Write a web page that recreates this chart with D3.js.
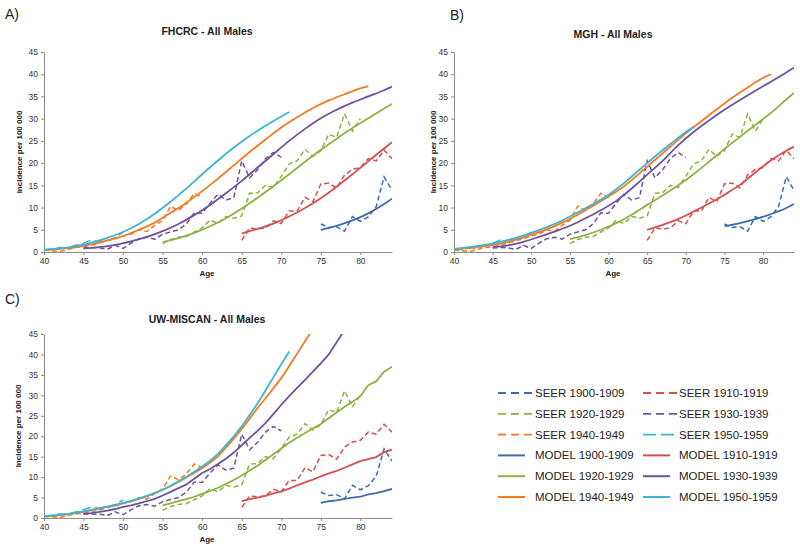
<!DOCTYPE html>
<html>
<head>
<meta charset="utf-8">
<script src="https://cdn.jsdelivr.net/npm/d3@7/dist/d3.min.js"></script>
<style>
  body { margin: 0; background: #fff; }
  svg { font-family: "Liberation Sans", Arial, sans-serif; }
</style>
</head>
<body>
<div id="chart"></div>
<script>
// cohorts and colours
const cohorts = ["1900-1909", "1910-1919", "1920-1929", "1930-1939", "1940-1949", "1950-1959"];
const colors = ["#3d6cae", "#d2504f", "#8fb144", "#6f529e", "#f47a20", "#3db4d4"];

// SEER observed incidence (same in every panel), first age of each cohort
const seerStart = [75, 65, 55, 45, 40, 40];
const seer1900 = [6.3, 5.5, 5.7, 4.7, 8.0, 6.9, 7.9, 10.2, 16.9, 13.9];
const seer1910 = [2.6, 5.4, 5.2, 5.4, 7.0, 6.4, 9.2, 9.2, 12.3, 11.3, 15.3, 15.5, 14.4, 17.3, 18.6, 19.0, 21.0, 20.5, 22.9, 21.0];
const seer1920 = [1.9, 2.8, 3.3, 3.5, 4.5, 5.4, 7.2, 6.4, 8.0, 7.6, 8.1, 13.2, 13.3, 15.0, 14.5, 17.0, 19.8, 20.5, 23.1, 21.5, 22.8, 26.5, 25.8, 31.1, 27.2, 30.0];
const seer1930 = [0.9, 1.0, 0.9, 0.6, 1.5, 0.8, 2.0, 3.0, 3.3, 2.9, 4.0, 4.5, 5.0, 6.3, 8.8, 8.7, 11.0, 13.0, 11.7, 12.2, 20.5, 16.7, 18.5, 21.0, 22.4, 21.3];
const seer1940 = [0.4, 0.3, 0.1, 0.6, 1.0, 1.2, 1.5, 2.0, 2.6, 3.0, 3.6, 4.0, 5.0, 4.6, 6.0, 7.1, 10.3, 9.3, 10.8, 13.2, 12.3];
const seer1950 = [0.5, 0.7, 1.0, 0.9, 1.5, 2.0, 2.7, 2.3, 2.5, 3.3, 4.4];
const seerValues = [seer1900, seer1910, seer1920, seer1930, seer1940, seer1950];

// FHCRC model, [age, incidence]
const fhcrc1900 = [[75, 5.0], [77, 5.9], [79, 7.1], [81, 8.7], [83, 10.8], [84, 12.0]];
const fhcrc1910 = [[65, 4.2], [67, 5.2], [69, 6.4], [71, 8.0], [73, 9.9], [75, 12.1], [77, 14.7], [79, 17.5], [81, 20.4], [83, 23.3], [84, 24.7]];
const fhcrc1920 = [[55, 2.2], [57, 3.1], [59, 4.3], [61, 5.8], [63, 7.6], [65, 9.8], [67, 12.2], [69, 14.8], [71, 17.5], [73, 20.3], [75, 23.0], [77, 25.5], [79, 27.9], [81, 30.1], [83, 32.3], [84, 33.3]];
const fhcrc1930 = [[45, 0.8], [47, 1.1], [49, 1.6], [51, 2.4], [53, 3.4], [55, 4.7], [57, 6.3], [59, 8.3], [61, 10.6], [63, 13.2], [65, 16.0], [67, 19.0], [69, 22.0], [71, 25.0], [73, 27.7], [75, 30.1], [77, 32.0], [79, 33.6], [81, 35.0], [83, 36.4], [84, 37.2]];
const fhcrc1940 = [[40, 0.4], [42, 0.7], [44, 1.1], [46, 1.7], [48, 2.6], [50, 3.6], [52, 5.0], [54, 6.6], [56, 8.8], [58, 11.1], [60, 13.7], [62, 16.5], [64, 19.5], [66, 22.5], [68, 25.3], [70, 28.0], [72, 30.3], [74, 32.4], [76, 34.1], [78, 35.5], [80, 36.8], [81, 37.3]];
const fhcrc1950 = [[40, 0.5], [42, 0.8], [44, 1.3], [46, 2.1], [48, 3.2], [50, 4.5], [52, 6.3], [54, 8.6], [56, 11.3], [58, 14.3], [60, 17.5], [62, 20.6], [64, 23.5], [66, 26.1], [68, 28.4], [70, 30.5], [71, 31.5]];

// MGH model
const mgh1900 = [[75, 5.8], [77, 6.5], [79, 7.4], [81, 8.5], [83, 9.9], [84, 10.8]];
const mgh1910 = [[65, 5.0], [67, 6.1], [69, 7.4], [71, 9.1], [73, 10.9], [75, 12.9], [77, 15.1], [79, 17.9], [81, 20.6], [83, 22.8], [84, 23.7]];
const mgh1920 = [[55, 2.9], [57, 3.8], [59, 5.0], [61, 6.5], [63, 8.4], [65, 10.6], [67, 12.7], [69, 15.0], [71, 17.5], [73, 20.3], [75, 23.2], [77, 25.9], [79, 28.6], [81, 31.3], [83, 34.3], [84, 35.8]];
const mgh1930 = [[45, 1.1], [47, 1.5], [49, 2.3], [51, 3.4], [53, 4.6], [55, 5.9], [57, 7.6], [59, 9.4], [61, 11.5], [63, 14.3], [65, 17.4], [67, 20.5], [69, 24.0], [71, 27.0], [73, 29.6], [75, 32.0], [77, 34.2], [79, 36.3], [81, 38.3], [83, 40.4], [84, 41.5]];
const mgh1940 = [[40, 0.6], [42, 0.9], [44, 1.3], [46, 1.9], [48, 2.8], [50, 3.9], [52, 5.1], [54, 6.6], [56, 8.4], [58, 10.4], [60, 12.5], [62, 14.8], [64, 17.7], [66, 20.7], [68, 23.7], [70, 26.7], [72, 29.4], [74, 32.1], [76, 34.7], [78, 37.0], [80, 39.2], [81, 40.0]];
const mgh1950 = [[40, 0.7], [42, 1.1], [44, 1.6], [46, 2.3], [48, 3.2], [50, 4.3], [52, 5.6], [54, 7.1], [56, 8.9], [58, 10.8], [60, 12.9], [62, 15.5], [64, 18.5], [66, 21.5], [68, 24.3], [70, 27.0], [71, 28.1]];

// UW-MISCAN model, yearly values from first age
const uwStart = [75, 65, 55, 45, 40, 40];
const uw1900 = [3.7, 4.1, 4.3, 4.7, 5.0, 5.2, 5.8, 6.1, 6.6, 7.1];
const uw1910 = [4.1, 4.6, 5.0, 5.4, 6.0, 6.5, 7.2, 8.0, 8.7, 9.4, 10.2, 10.9, 11.5, 12.3, 13.1, 13.9, 14.4, 14.9, 16.1, 16.7];
const uw1920 = [3.1, 3.6, 4.1, 4.6, 5.2, 5.9, 6.6, 7.4, 8.3, 9.3, 10.4, 11.6, 12.8, 14.2, 15.6, 17.0, 18.4, 19.6, 20.8, 21.9, 23.0, 24.4, 25.8, 27.2, 28.4, 29.8, 32.5, 33.4, 35.8, 37.0];
const uw1930 = [1.0, 1.2, 1.5, 1.8, 2.2, 2.7, 3.1, 3.6, 4.1, 4.7, 5.5, 6.4, 7.3, 8.2, 9.6, 11.0, 12.0, 13.2, 14.5, 16.0, 17.8, 19.6, 21.3, 23.2, 25.4, 27.7, 29.8, 31.8, 33.8, 35.8, 37.8, 40.0, 43.0, 46.0];
const uw1940 = [0.3, 0.5, 0.7, 0.9, 1.2, 1.5, 1.9, 2.3, 2.7, 3.1, 3.6, 4.1, 4.7, 5.3, 6.1, 6.9, 7.8, 8.8, 9.9, 11.0, 12.2, 13.5, 15.1, 17.2, 19.4, 21.8, 24.3, 26.9, 29.3, 31.7, 34.2, 37.2, 40.2, 43.2, 46.2];
const uw1950 = [0.4, 0.6, 0.8, 1.0, 1.3, 1.6, 2.0, 2.4, 2.8, 3.2, 3.7, 4.2, 4.8, 5.4, 6.1, 6.9, 7.9, 9.0, 10.1, 11.3, 12.6, 14.0, 15.7, 17.8, 20.0, 22.4, 25.2, 28.0, 31.2, 34.4, 37.6, 40.7];

const xTicks = [40, 45, 50, 55, 60, 65, 70, 75, 80];
const yTicks = [0, 5, 10, 15, 20, 25, 30, 35, 40, 45];

// build series
const seerSeries = seerValues.map((vals, i) => vals.map((v, j) => [seerStart[i] + j, v]));
const uwSeries = [uw1900, uw1910, uw1920, uw1930, uw1940, uw1950]
  .map((vals, i) => vals.map((v, j) => [uwStart[i] + j, v]));

const panels = [
  { letter: "A)", title: "FHCRC - All Males", x0: 44, x1: 392, y0: 252, y1: 52, cx: 207, ty: 35, ly: 19, lx: 5, yl: 19,
    models: [fhcrc1900, fhcrc1910, fhcrc1920, fhcrc1930, fhcrc1940, fhcrc1950], smooth: true },
  { letter: "B)", title: "MGH - All Males", x0: 454, x1: 794, y0: 252, y1: 52, cx: 613, ty: 38, ly: 20, lx: 450, yl: 433,
    models: [mgh1900, mgh1910, mgh1920, mgh1930, mgh1940, mgh1950], smooth: true },
  { letter: "C)", title: "UW-MISCAN - All Males", x0: 44, x1: 392, y0: 518, y1: 334, cx: 207, ty: 323, ly: 304, lx: 5, yl: 18,
    models: uwSeries, smooth: false }
];

const width = 800, height = 554;
const svg = d3.select("#chart").append("svg")
  .attr("width", width)
  .attr("height", height);

panels.forEach((p, pi) => {
  const x = d3.scaleLinear().domain([40, 84]).range([p.x0, p.x1]);
  const y = d3.scaleLinear().domain([0, 45]).range([p.y0, p.y1]);
  const g = svg.append("g");

  // clip to plot area
  g.append("clipPath").attr("id", "clip" + pi)
    .append("rect")
    .attr("x", p.x0).attr("y", p.y1)
    .attr("width", p.x1 - p.x0).attr("height", p.y0 - p.y1);

  // axes
  const xAxis = g.append("g")
    .attr("transform", `translate(0, ${p.y0})`)
    .call(d3.axisBottom(x).tickValues(xTicks).tickSize(3).tickSizeOuter(0).tickPadding(3));
  const yAxis = g.append("g")
    .attr("transform", `translate(${p.x0}, 0)`)
    .call(d3.axisLeft(y).tickValues(yTicks).tickSize(3).tickSizeOuter(0).tickPadding(3));
  [xAxis, yAxis].forEach(a => {
    a.select(".domain").attr("stroke", "#8c8c8c");
    a.selectAll(".tick line").attr("stroke", "#8c8c8c");
    a.selectAll(".tick text").attr("fill", "#333").style("font-size", "8.5px");
  });

  // titles
  g.append("text").attr("x", p.lx).attr("y", p.ly)
    .style("font-size", "14px").attr("fill", "#222").text(p.letter);
  g.append("text").attr("x", p.cx).attr("y", p.ty).attr("text-anchor", "middle")
    .style("font-size", "10.5px").style("font-weight", "bold").attr("fill", "#222").text(p.title);
  g.append("text").attr("x", p.cx).attr("y", p.y0 + 24).attr("text-anchor", "middle")
    .style("font-size", "8px").style("font-weight", "bold").attr("fill", "#222").text("Age");
  g.append("text")
    .attr("transform", `translate(${p.yl}, ${(p.y0 + p.y1) / 2}) rotate(-90)`)
    .attr("text-anchor", "middle").attr("dy", "0.35em")
    .style("font-size", "8px").style("font-weight", "bold").attr("fill", "#222")
    .text("Incidence per 100 000");

  const plot = g.append("g").attr("clip-path", `url(#clip${pi})`);

  // SEER dashed lines
  const seerLine = d3.line().x(d => x(d[0])).y(d => y(d[1]));
  seerSeries.forEach((s, i) => {
    plot.append("path")
      .datum(s)
      .attr("d", seerLine)
      .attr("fill", "none")
      .attr("stroke", colors[i])
      .attr("stroke-width", 1.5)
      .attr("stroke-dasharray", i === 5 ? "9,4" : "5,3");
  });

  // model lines
  const modelLine = d3.line().x(d => x(d[0])).y(d => y(d[1]))
    .curve(p.smooth ? d3.curveMonotoneX : d3.curveLinear);
  p.models.forEach((s, i) => {
    plot.append("path")
      .datum(s)
      .attr("d", modelLine)
      .attr("fill", "none")
      .attr("stroke", colors[i])
      .attr("stroke-width", 1.8);
  });
});

// legend
const legendItems = [];
cohorts.forEach((c, i) => legendItems.push({ label: "SEER " + c, color: colors[i], dashed: true, idx: i }));
cohorts.forEach((c, i) => legendItems.push({ label: "MODEL " + c, color: colors[i], dashed: false, idx: i }));

const legend = svg.append("g");
legendItems.forEach((d, k) => {
  const col = k % 2;
  const row = Math.floor(k / 2);
  const ly = 393 + row * 20.8;
  const lx = col === 0 ? 498 : 643;
  legend.append("line")
    .attr("x1", lx).attr("x2", d.dashed ? lx + 34 : lx + 27)
    .attr("y1", ly).attr("y2", ly)
    .attr("stroke", d.color)
    .attr("stroke-width", d.dashed ? 1.8 : 2)
    .attr("stroke-dasharray", d.dashed ? (d.idx === 5 ? "13,5" : "8,5") : null);
  legend.append("text")
    .attr("x", col === 0 ? 535 : 679)
    .attr("y", ly + 4)
    .style("font-size", "11.5px")
    .attr("fill", "#222")
    .text(d.label);
});
</script>
</body>
</html>
